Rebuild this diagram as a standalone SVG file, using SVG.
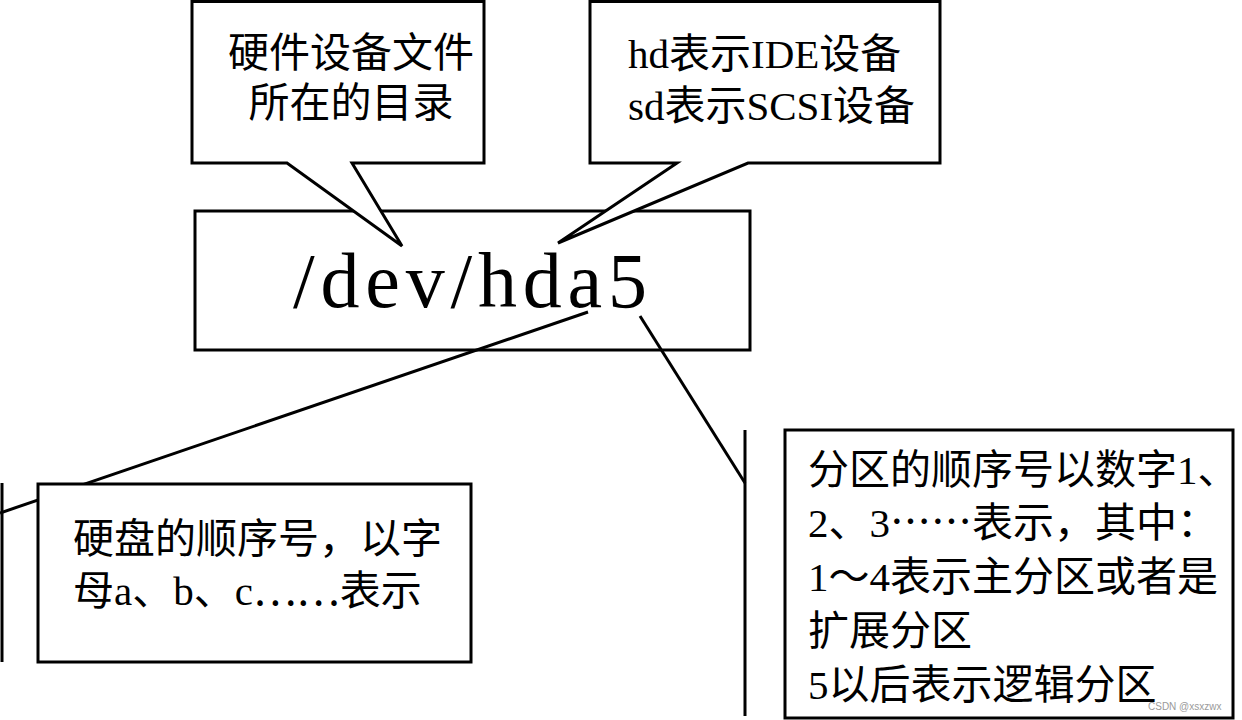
<svg xmlns="http://www.w3.org/2000/svg" width="1242" height="720" viewBox="0 0 1242 720">
  <style>
    .shape { fill: #ffffff; stroke: #000000; stroke-width: 3; stroke-linejoin: miter; }
    .line { fill: none; stroke: #000000; stroke-width: 3; }
    .txt { font-family: "Liberation Serif", "Noto Sans CJK SC", serif; font-size: 41px; fill: #000000; }
    .cjk { font-family: "Noto Sans CJK SC", sans-serif; }
    .big { font-family: "Liberation Serif", serif; font-size: 78px; fill: #000000; }
    .wm { font-family: "Liberation Sans", sans-serif; font-size: 10px; fill: #9a9a9a; }
  </style>
  <rect width="1242" height="720" fill="#ffffff"/>

  <g id="device-path">
    <rect class="shape" x="195" y="211" width="555" height="139"/>
    <text class="big" x="293" y="307" textLength="354" lengthAdjust="spacing">/dev/hda5</text>
  </g>

  <g id="callout-dir">
    <path class="shape" d="M192,1.5 H484 V163 H352 L402,246 L287,163 H192 Z"/>
    <text class="txt" x="351" y="67" text-anchor="middle">硬件设备文件</text>
    <text class="txt" x="351" y="117" text-anchor="middle">所在的目录</text>
  </g>

  <g id="callout-type">
    <path class="shape" d="M590,1.5 H940 V163 H748 L558,243 L677,163 H590 Z"/>
    <text class="txt" x="628" y="68">hd表示IDE设备</text>
    <text class="txt" x="628" y="120">sd表示SCSI设备</text>
  </g>

  <g id="connectors">
    <line class="line" x1="588" y1="312" x2="0" y2="513"/>
    <line class="line" x1="2" y1="483" x2="2" y2="662"/>
    <line class="line" x1="640" y1="316" x2="745" y2="483"/>
    <line class="line" x1="745" y1="430" x2="745" y2="716"/>
  </g>

  <g id="disk-order">
    <rect class="shape" x="38" y="484" width="433" height="178"/>
    <text class="txt" x="73" y="553">硬盘的顺序号，以字</text>
    <text class="txt" x="73" y="605">母a、b、c<tspan class="cjk">……</tspan>表示</text>
  </g>

  <g id="partition-order">
    <rect class="shape" x="785" y="430" width="448" height="288"/>
    <text class="txt" x="808" y="484">分区的顺序号以数字1、</text>
    <text class="txt" x="808" y="537">2、3<tspan class="cjk">……</tspan>表示，其中：</text>
    <text class="txt" x="808" y="591">1～4表示主分区或者是</text>
    <text class="txt" x="808" y="645">扩展分区</text>
    <text class="txt" x="808" y="699">5以后表示逻辑分区</text>
  </g>

  <text class="wm" x="1148" y="710">CSDN @xsxzwx</text>
</svg>
